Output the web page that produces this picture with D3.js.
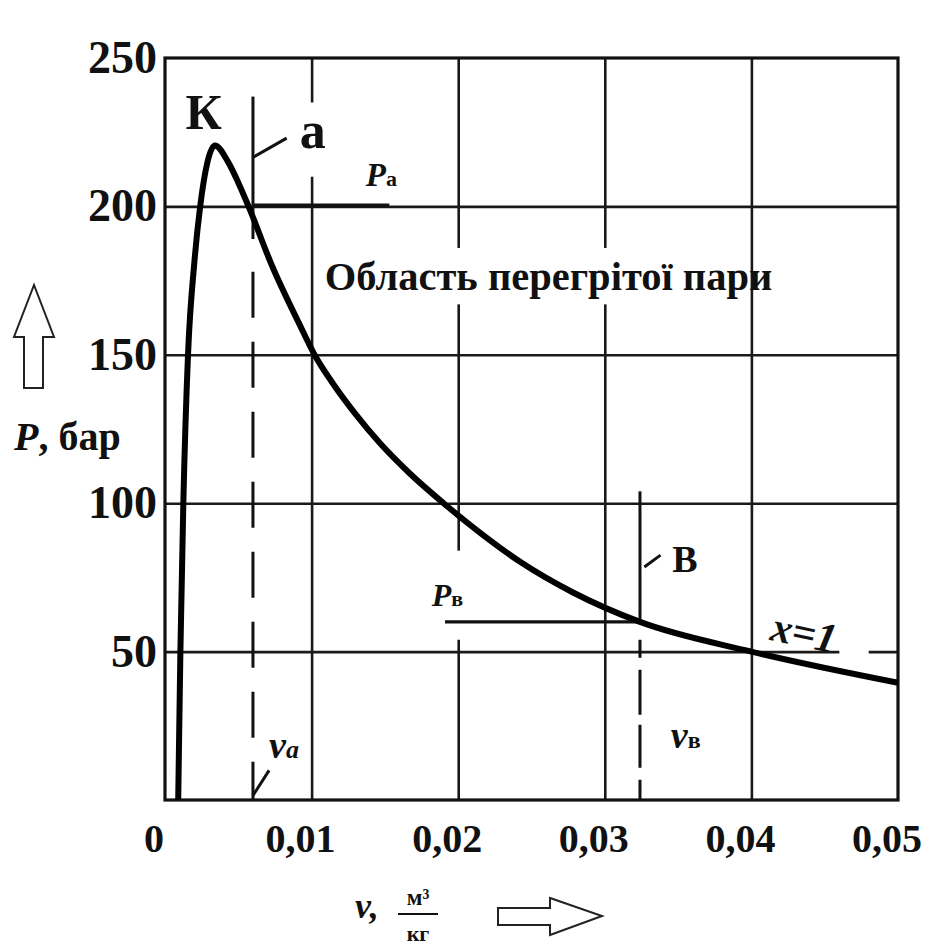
<!DOCTYPE html>
<html lang="uk">
<head>
	<meta charset="utf-8">
	<title>P-v діаграма</title>
	<script src="https://d3js.org/d3.v7.min.js"></script>
	<style>
		body { margin: 0; background: #fff; }
		svg { display: block; background: #fff; }
		text { font-family: "Liberation Serif", "DejaVu Serif", serif; font-weight: bold; fill: #111; }
		.grid line { stroke: #1a1a1a; stroke-width: 2.6; }
		.grid path { display: none; }
	</style>
</head>
<body>
<svg id="chart" width="936" height="948"></svg>
<script>
	// ticks
	var xTicks = [0, 0.01, 0.02, 0.03, 0.04, 0.05];
	var xTickLabels = ["0", "0,01", "0,02", "0,03", "0,04", "0,05"];
	var yTicks = [50, 100, 150, 200, 250];
	var yTickLabels = ["50", "100", "150", "200", "250"];

	// saturation curve (left branch, critical point K, right branch x=1)
	var satV = [0.0009, 0.00105, 0.00125, 0.00157, 0.0020, 0.0024, 0.0029, 0.0034,
		0.0043, 0.0050, 0.0057, 0.0073, 0.0092, 0.0102, 0.0115, 0.0130, 0.0147, 0.0167,
		0.0190, 0.0215, 0.0243, 0.0278, 0.0324, 0.0400, 0.0500];
	var satP = [0, 50, 100, 150, 181, 200, 215, 220.5,
		215, 208, 200, 180, 160, 150, 140, 130, 120, 110,
		100, 90, 80, 70, 60, 50, 39.5];

	// states a and B
	var vA = 0.0060, pA = 200, pAEnd = 0.0153;
	var vB = 0.0324, pB = 60, pBStart = 0.0191;

	var svg = d3.select("#chart");
	var x = d3.scaleLinear().domain([0, 0.05]).range([165, 898]);
	var y = d3.scaleLinear().domain([0, 250]).range([800, 58]);

	// grid
	svg.append("g").attr("class", "grid")
		.attr("transform", "translate(0," + y(0) + ")")
		.call(d3.axisBottom(x).tickValues(xTicks.slice(1, 5)).tickSize(-(y(0) - y(250))).tickFormat(""));
	svg.append("g").attr("class", "grid")
		.attr("transform", "translate(" + x(0) + ",0)")
		.call(d3.axisLeft(y).tickValues(yTicks.slice(0, 4)).tickSize(-(x(0.05) - x(0))).tickFormat(""));

	// gaps in the grid around labels
	var gaps = [
		[0.0088, 0.0112, 235, 210],
		[0.0105, 0.0392, 186, 167],
		[0.0180, 0.0210, 84, 54],
		[0.0460, 0.0480, 52, 49]
	];
	svg.selectAll(".gap").data(gaps).enter().append("rect")
		.attr("x", function(d) { return x(d[0]); })
		.attr("width", function(d) { return x(d[1]) - x(d[0]); })
		.attr("y", function(d) { return y(d[2]); })
		.attr("height", function(d) { return y(d[3]) - y(d[2]); })
		.attr("fill", "#fff");

	// frame
	svg.append("rect")
		.attr("x", x(0)).attr("y", y(250))
		.attr("width", x(0.05) - x(0)).attr("height", y(0) - y(250))
		.attr("fill", "none").attr("stroke", "#111").attr("stroke-width", 3.2);

	// a: solid above, dashed below
	svg.append("line").attr("x1", x(vA)).attr("x2", x(vA)).attr("y1", y(237)).attr("y2", y(189))
		.attr("stroke", "#111").attr("stroke-width", 3);
	svg.append("line").attr("x1", x(vA)).attr("x2", x(vA)).attr("y1", y(178)).attr("y2", y(0))
		.attr("stroke", "#111").attr("stroke-width", 3).attr("stroke-dasharray", "46,24");
	svg.append("line").attr("x1", x(vA)).attr("x2", x(pAEnd)).attr("y1", y(pA) - 1).attr("y2", y(pA) - 1)
		.attr("stroke", "#111").attr("stroke-width", 4);

	// B: solid above, dashed below
	svg.append("line").attr("x1", x(vB)).attr("x2", x(vB)).attr("y1", y(104)).attr("y2", y(pB))
		.attr("stroke", "#111").attr("stroke-width", 3);
	svg.append("line").attr("x1", x(vB)).attr("x2", x(vB)).attr("y1", y(54)).attr("y2", y(0))
		.attr("stroke", "#111").attr("stroke-width", 3).attr("stroke-dasharray", "18,12,45,10,43,12,20");
	svg.append("line").attr("x1", x(pBStart)).attr("x2", x(vB)).attr("y1", y(pB)).attr("y2", y(pB))
		.attr("stroke", "#111").attr("stroke-width", 3.2);

	// saturation curve
	var line = d3.line().x(function(d, i) { return x(satV[i]); }).y(function(d) { return y(d); })
		.curve(d3.curveMonotoneX);
	svg.append("path").datum(satP).attr("d", line)
		.attr("fill", "none").attr("stroke", "#000").attr("stroke-width", 6);

	// little leader ticks
	var leaders = [
		[vA, 216.5, 0.0083, 223],
		[vB + 0.0003, 78.5, 0.0338, 82.5],
		[vA, 1.5, 0.0071, 10]
	];
	svg.selectAll(".leader").data(leaders).enter().append("line")
		.attr("x1", function(d) { return x(d[0]); }).attr("y1", function(d) { return y(d[1]); })
		.attr("x2", function(d) { return x(d[2]); }).attr("y2", function(d) { return y(d[3]); })
		.attr("stroke", "#111").attr("stroke-width", 3);

	// tick labels
	svg.selectAll(".ylab").data(yTicks).enter().append("text")
		.attr("x", 157).attr("y", function(d) { return y(d) + 15; })
		.attr("text-anchor", "end").attr("font-size", 46)
		.text(function(d, i) { return yTickLabels[i]; });
	svg.selectAll(".xlab").data(xTicks).enter().append("text")
		.attr("x", function(d) { return x(d) - 11; }).attr("y", 852)
		.attr("text-anchor", "middle").attr("font-size", 40)
		.text(function(d, i) { return xTickLabels[i]; });

	// annotations
	function label(v, p, size, parts) {
		var t = svg.append("text").attr("x", x(v)).attr("y", y(p)).attr("font-size", size);
		parts.forEach(function(s) {
			var ts = t.append("tspan").text(s.t);
			if (s.size) ts.attr("font-size", s.size);
			if (s.style) ts.attr("font-style", s.style);
		});
		return t;
	}
	label(0.0014, 226, 50, [{t: "К"}]);
	label(0.0092, 219.8, 52, [{t: "а"}]);
	label(0.0137, 206.8, 33, [{t: "P", style: "italic"}, {t: "а", size: 22}]);
	label(0.0109, 172, 40.5, [{t: "Область перегрітої пари"}]);
	label(0.0346, 76.8, 38, [{t: "В"}]);
	label(0.0182, 65.5, 32, [{t: "P", style: "italic"}, {t: "в", size: 22}]);
	label(0.0071, 14, 38, [{t: "v", style: "italic"}, {t: "a", size: 26, style: "italic"}]);
	label(0.0345, 17.5, 38, [{t: "v", style: "italic"}, {t: "в", size: 24}]);
	label(0.0412, 54, 42, [{t: "x=1", style: "italic"}])
		.attr("font-weight", "normal")
		.attr("transform", "rotate(12," + x(0.0412) + "," + y(54) + ")");

	// axis titles
	label(0, 0, 40, [{t: "P", style: "italic"}, {t: ", бар"}]).attr("x", 14).attr("y", 450);
	svg.append("text").attr("x", 355).attr("y", 918).attr("font-size", 36)
		.append("tspan").attr("font-style", "italic").text("v,");
	svg.append("text").attr("x", 418).attr("y", 905).attr("font-size", 23).attr("text-anchor", "middle")
		.text("м³");
	svg.append("line").attr("x1", 398).attr("x2", 438).attr("y1", 914).attr("y2", 914)
		.attr("stroke", "#111").attr("stroke-width", 2);
	svg.append("text").attr("x", 418).attr("y", 941).attr("font-size", 22).attr("text-anchor", "middle")
		.text("кг");

	// outline arrows
	svg.append("path")
		.attr("d", "M24,388 L24,337 L14,337 L34,285 L54,337 L43,337 L43,388 Z")
		.attr("fill", "none").attr("stroke", "#222").attr("stroke-width", 2);
	svg.append("path")
		.attr("d", "M498,908 L550,908 L550,898 L602,916 L550,935 L550,925 L498,925 Z")
		.attr("fill", "none").attr("stroke", "#222").attr("stroke-width", 2);
</script>
</body>
</html>
